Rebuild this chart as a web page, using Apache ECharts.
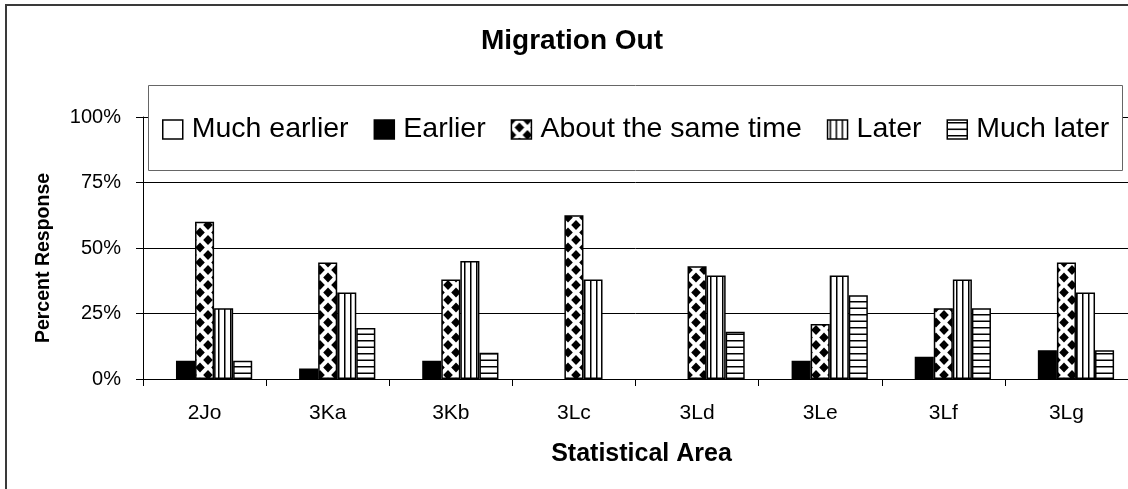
<!DOCTYPE html>
<html>
<head>
<meta charset="utf-8">
<script src="https://cdn.jsdelivr.net/npm/echarts@6/dist/echarts.min.js"></script>
<style>
  html, body { margin: 0; padding: 0; background: #fff; }
  #chart { width: 1128px; height: 489px; }
</style>
</head>
<body>
<div id="chart"></div>
<script>
// Survey areas and percentage of responses per answer
const categories = ['2Jo', '3Ka', '3Kb', '3Lc', '3Ld', '3Le', '3Lf', '3Lg'];
const seriesNames = ['Much earlier', 'Earlier', 'About the same time', 'Later', 'Much later'];
const muchEarlier = [0, 0, 0, 0, 0, 0, 0, 0];
const earlier = [7, 4, 7, 0, 0, 7, 8.5, 11];
const sameTime = [60, 44.5, 38, 62.5, 43, 21, 27, 44.5];
const later = [27, 33, 45, 38, 39.5, 39.5, 38, 33];
const muchLater = [7, 19.5, 10, 0, 18, 32, 27, 11];
const yTicks = [0, 25, 50, 75, 100];

const FONT = "'Liberation Sans', Arial, sans-serif";

// Black-and-white fill tiles for the bars
function makeTile(w, h, draw) {
  const c = document.createElement('canvas');
  c.width = w; c.height = h;
  const g = c.getContext('2d');
  g.fillStyle = '#fff';
  g.fillRect(0, 0, w, h);
  g.fillStyle = '#000';
  draw(g, w, h);
  return c;
}
function diamond(g, cx, cy, rx, ry) {
  g.beginPath();
  g.moveTo(cx, cy - ry);
  g.lineTo(cx + rx, cy);
  g.lineTo(cx, cy + ry);
  g.lineTo(cx - rx, cy);
  g.closePath();
  g.fill();
}
const diamondTile = makeTile(16, 15, (g, w, h) => {
  const rx = 4.8, ry = 5;
  diamond(g, w / 2, h / 2, rx, ry);
  [[0, 0], [w, 0], [0, h], [w, h]].forEach(p => diamond(g, p[0], p[1], rx, ry));
});
const vLineTile = makeTile(6, 4, g => { g.fillRect(2, 0, 1.5, 4); });
const hLineTile = makeTile(4, 13, g => { g.fillRect(0, 2, 4, 1.5); g.fillRect(0, 8.5, 4, 1.5); });

const fills = [
  '#ffffff',
  '#000000',
  { image: diamondTile, repeat: 'repeat' },
  { image: vLineTile, repeat: 'repeat' },
  { image: hLineTile, repeat: 'repeat' }
];
const values = [muchEarlier, earlier, sameTime, later, muchLater];

// a zero value gets no outline, so it leaves no mark on the axis
function barData(arr) {
  return arr.map(v => (v === 0 ? { value: 0, itemStyle: { borderWidth: 0 } } : v));
}

const chart = echarts.init(document.getElementById('chart'), null, { renderer: 'canvas' });

chart.setOption({
  animation: false,
  backgroundColor: '#fff',
  title: {
    text: 'Migration Out',
    left: 481,
    top: 27,
    padding: 0,
    textStyle: { fontFamily: FONT, fontSize: 28, fontWeight: 'bold', color: '#000' }
  },
  graphic: [
    {
      type: 'rect', silent: true, z: 1,
      shape: { x: 6, y: 5, width: 1300, height: 700 },
      style: { fill: null, stroke: '#3a3a3a', lineWidth: 2 }
    },
    {
      type: 'rect', silent: true, z: 5,
      shape: { x: 148.5, y: 85.5, width: 974, height: 85 },
      style: { fill: '#fff', stroke: '#666', lineWidth: 1 }
    }
  ],
  legend: {
    z: 10,
    left: 162,
    top: 115,
    padding: 0,
    itemWidth: 20,
    itemHeight: 19,
    itemGap: 25,
    icon: 'rect',
    data: seriesNames,
    itemStyle: { borderColor: '#000', borderWidth: 1.5 },
    textStyle: { fontFamily: FONT, fontSize: 28.5, color: '#000', padding: [0, 0, 0, 4] }
  },
  grid: { left: 143, top: 117, height: 262, width: 998, containLabel: false },
  xAxis: {
    type: 'category',
    data: categories,
    name: 'Statistical Area',
    nameLocation: 'middle',
    nameGap: 63,
    nameTextStyle: { fontFamily: FONT, fontSize: 25, fontWeight: 'bold', color: '#000', padding: [0, 0, 0, 12] },
    axisLine: { lineStyle: { color: '#000', width: 1 } },
    axisTick: { show: true, length: 7, lineStyle: { color: '#000' } },
    axisLabel: { fontFamily: FONT, fontSize: 21, color: '#000', margin: 24 },
    splitLine: { show: false }
  },
  yAxis: {
    type: 'value',
    min: 0, max: 100, interval: 25,
    name: 'Percent Response',
    nameLocation: 'middle',
    nameGap: 89,
    nameTextStyle: { fontFamily: FONT, fontSize: 19.5, fontWeight: 'bold', color: '#000', padding: [0, 20, 0, 0] },
    axisLine: { show: true, lineStyle: { color: '#000', width: 1 } },
    axisTick: { show: true, length: 7, lineStyle: { color: '#000' } },
    axisLabel: {
      fontFamily: FONT, fontSize: 20, color: '#000', margin: 22,
      formatter: v => (yTicks.indexOf(v) >= 0 ? v + '%' : '')
    },
    splitLine: { show: true, lineStyle: { color: '#000', width: 1 } }
  },
  series: seriesNames.map((name, i) => ({
    name: name,
    type: 'bar',
    data: barData(values[i]),
    barGap: '0%',
    barCategoryGap: '22.6%',
    itemStyle: { color: fills[i], borderColor: '#000', borderWidth: 1.5 },
    emphasis: { disabled: true }
  }))
});
</script>
</body>
</html>
